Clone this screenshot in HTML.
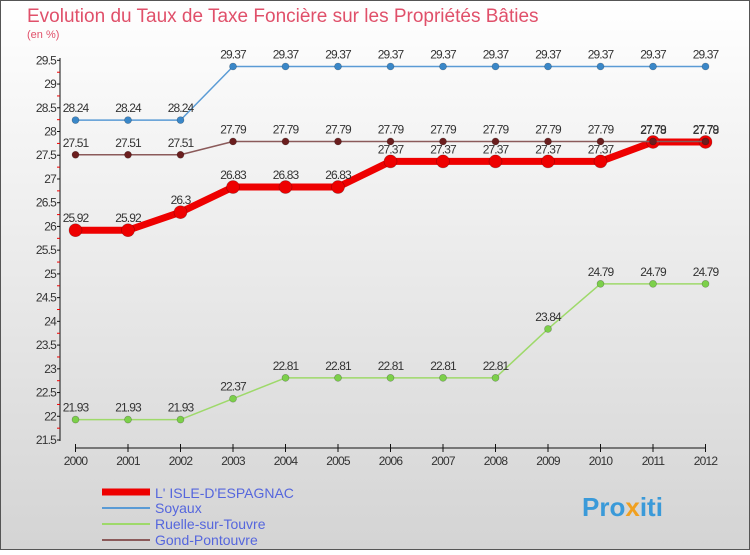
<!DOCTYPE html>
<html><head><meta charset="utf-8"><style>
body{margin:0}
svg text{font-family:"Liberation Sans",sans-serif}
</style></head><body>
<svg width="750" height="550" xmlns="http://www.w3.org/2000/svg">
<defs><linearGradient id="bg" x1="0" y1="0" x2="0" y2="1"><stop offset="0" stop-color="#ffffff"/><stop offset="1" stop-color="#d4d4d4"/></linearGradient></defs>
<rect x="0.5" y="0.5" width="749" height="549" fill="url(#bg)" stroke="#555"/>
<text x="27" y="22" font-size="19" fill="#e0506a">Evolution du Taux de Taxe Foncière sur les Propriétés Bâties</text>
<text x="27" y="38" font-size="11" fill="#e0506a">(en %)</text>
<g id="axes"></g>
<g id="series"></g>
<g>
<line x1="102" y1="492" x2="150" y2="492" stroke="#ee0000" stroke-width="7"/><text x="155" y="498" font-size="14" fill="#5566dd">L' ISLE-D'ESPAGNAC</text>
<line x1="102" y1="508" x2="150" y2="508" stroke="#5a9bd5" stroke-width="2"/><text x="155" y="513" font-size="14" fill="#5566dd">Soyaux</text>
<line x1="102" y1="524" x2="150" y2="524" stroke="#9ed96a" stroke-width="2"/><text x="155" y="529" font-size="14" fill="#5566dd">Ruelle-sur-Touvre</text>
<line x1="102" y1="540" x2="150" y2="540" stroke="#8b5a5a" stroke-width="2"/><text x="155" y="545" font-size="14" fill="#5566dd">Gond-Pontouvre</text>
</g>
<text x="582" y="516" font-size="26" font-weight="bold" fill="#3a9ad9">Pro<tspan fill="#f0a020">x</tspan>iti</text>
</svg>
<script>
const years=[2000,2001,2002,2003,2004,2005,2006,2007,2008,2009,2010,2011,2012];
const yTicks=[21.5,22,22.5,23,23.5,24,24.5,25,25.5,26,26.5,27,27.5,28,28.5,29,29.5];
const soyaux=[28.24,28.24,28.24,29.37,29.37,29.37,29.37,29.37,29.37,29.37,29.37,29.37,29.37];
const gond=[27.51,27.51,27.51,27.79,27.79,27.79,27.79,27.79,27.79,27.79,27.79,27.79,27.79];
const lisle=[25.92,25.92,26.3,26.83,26.83,26.83,27.37,27.37,27.37,27.37,27.37,27.78,27.78];
const ruelle=[21.93,21.93,21.93,22.37,22.81,22.81,22.81,22.81,22.81,23.84,24.79,24.79,24.79];
const NS="http://www.w3.org/2000/svg";
const xS=i=>75.5+i*52.5;
const yS=v=>440-(v-21.5)*47.46;
function mk(tag,attrs,parent){const e=document.createElementNS(NS,tag);for(const k in attrs)e.setAttribute(k,attrs[k]);parent.appendChild(e);return e;}
const ax=document.getElementById('axes');
let l=mk('line',{x1:60,y1:58,x2:60,y2:441,stroke:'#111'},ax);


yTicks.forEach(t=>{const y=yS(t);
 mk('line',{x1:57,y1:y,x2:60,y2:y,stroke:'#111'},ax);
 mk('line',{x1:57,y1:y+11.9,x2:60,y2:y+11.9,stroke:t>21.5?'#e00':'none'},ax);
 const tx=mk('text',{x:56,y:y+4,'font-size':12,'text-anchor':'end',fill:'#333','letter-spacing':'-0.8'},ax);tx.textContent=t;
 
 });
l=mk('line',{x1:xS(0),y1:448,x2:xS(12),y2:448,stroke:'#111'},ax);


years.forEach((yr,i)=>{const x=xS(i);mk('line',{x1:x,y1:444,x2:x,y2:452,stroke:'#111'},ax);
 const tx=mk('text',{x:x,y:465,'font-size':12,'text-anchor':'middle',fill:'#333','letter-spacing':'-0.8'},ax);tx.textContent=yr;
 
 });
const sg=document.getElementById('series');
function series(vals,color,w,r,dot,name){
 const g=mk('g',{},sg);
 
 
 mk('polyline',{points:vals.map((v,i)=>xS(i)+','+yS(v)).join(' '),fill:'none',stroke:color,'stroke-width':w,'stroke-linejoin':'round'},g);
 vals.forEach((v,i)=>{const c=mk('circle',{cx:xS(i),cy:yS(v),r:r,fill:dot,stroke:'rgba(0,0,0,0.3)','stroke-width':0.6},g);
  
  
  const t=mk('text',{x:xS(i),y:yS(v)-8,'font-size':12,'text-anchor':'middle',fill:'#333','letter-spacing':'-0.9'},g);t.textContent=v;
  
  });
}
series(soyaux,'#5a9bd5',1.5,3.5,'#3a87c8','soyaux-series');
series(ruelle,'#9ed96a',1.5,3.5,'#7cd04a','ruelle-series');
series(lisle,'#ee0000',7,6.5,'#ee0000','lisle-series');
series(gond,'#8b5a5a',1.5,3.5,'#6b1e1e','gond-series');
</script>
</body></html>
